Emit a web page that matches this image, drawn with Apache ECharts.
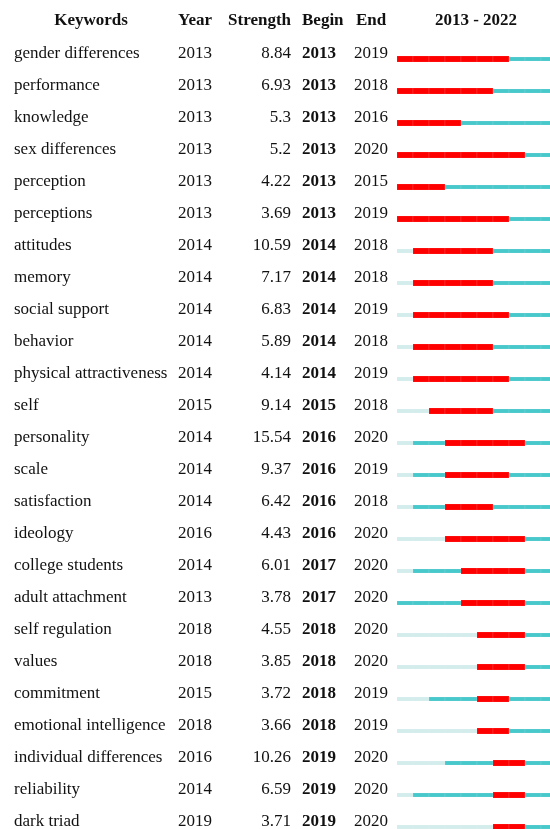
<!DOCTYPE html>
<html>
<head>
<meta charset="utf-8">
<script src="https://cdn.jsdelivr.net/npm/echarts@6/dist/echarts.min.js"></script>
<style>
  html, body { margin: 0; padding: 0; background: #fff; }
  #chart { width: 550px; height: 829px; }
</style>
</head>
<body>
<div id="chart"></div>
<script>
// 关键词突现数据
const keywords = ['gender differences', 'performance', 'knowledge', 'sex differences', 'perception',
  'perceptions', 'attitudes', 'memory', 'social support', 'behavior', 'physical attractiveness',
  'self', 'personality', 'scale', 'satisfaction', 'ideology', 'college students', 'adult attachment',
  'self regulation', 'values', 'commitment', 'emotional intelligence', 'individual differences',
  'reliability', 'dark triad'];
const years = [2013, 2013, 2013, 2013, 2013, 2013, 2014, 2014, 2014, 2014, 2014, 2015, 2014, 2014,
  2014, 2016, 2014, 2013, 2018, 2018, 2015, 2018, 2016, 2014, 2019];
const strengths = [8.84, 6.93, 5.3, 5.2, 4.22, 3.69, 10.59, 7.17, 6.83, 5.89, 4.14, 9.14, 15.54, 9.37,
  6.42, 4.43, 6.01, 3.78, 4.55, 3.85, 3.72, 3.66, 10.26, 6.59, 3.71];
const begins = [2013, 2013, 2013, 2013, 2013, 2013, 2014, 2014, 2014, 2014, 2014, 2015, 2016, 2016,
  2016, 2016, 2017, 2017, 2018, 2018, 2018, 2018, 2019, 2019, 2019];
const ends = [2019, 2018, 2016, 2020, 2015, 2019, 2018, 2018, 2019, 2018, 2019, 2018, 2020, 2019,
  2018, 2020, 2020, 2020, 2020, 2020, 2019, 2019, 2020, 2020, 2020];
const firstYear = 2013;
const lastYear = 2022;

const font = 'Liberation Serif, Times New Roman, serif';
const RED = '#ff0000';
const TEAL = '#47c8ca';
const LIGHT = '#d3ecec';

const chart = echarts.init(document.getElementById('chart'));
const idx = keywords.map((k, i) => i);

// 每列用一个 y 轴来显示文字
function textAxis(formatter, margin, align, bold) {
  return {
    type: 'category',
    data: idx,
    inverse: true,
    position: 'left',
    axisLine: { show: false },
    axisTick: { show: false },
    splitLine: { show: false },
    axisLabel: {
      margin: margin,
      align: align,
      fontFamily: font,
      fontSize: 17,
      fontWeight: bold ? 'bold' : 'normal',
      color: '#111',
      formatter: formatter
    }
  };
}

const headerStyle = { fontFamily: font, fontSize: 17, fontWeight: 'bold', fill: '#111' };

const option = {
  animation: false,
  // 每年 16px，2013-2022 共 10 格
  grid: { left: 397, top: 38, width: 160, height: 800, outerBoundsMode: 'none', containLabel: false },
  xAxis: { type: 'value', min: firstYear, max: lastYear + 1, show: false },
  yAxis: [
    textAxis(v => keywords[v], 383, 'left'),
    textAxis(v => years[v], 219, 'left'),
    textAxis(v => strengths[v], 106, 'right'),
    textAxis(v => begins[v], 95, 'left', true),
    textAxis(v => ends[v], 43, 'left')
  ],
  graphic: [
    { type: 'text', x: 91, y: 21, style: Object.assign({ text: 'Keywords', align: 'center', verticalAlign: 'middle' }, headerStyle) },
    { type: 'text', x: 178, y: 21, style: Object.assign({ text: 'Year', align: 'left', verticalAlign: 'middle' }, headerStyle) },
    { type: 'text', x: 291, y: 21, style: Object.assign({ text: 'Strength', align: 'right', verticalAlign: 'middle' }, headerStyle) },
    { type: 'text', x: 302, y: 21, style: Object.assign({ text: 'Begin', align: 'left', verticalAlign: 'middle' }, headerStyle) },
    { type: 'text', x: 356, y: 21, style: Object.assign({ text: 'End', align: 'left', verticalAlign: 'middle' }, headerStyle) },
    { type: 'text', x: 476, y: 21, style: Object.assign({ text: firstYear + ' - ' + lastYear, align: 'center', verticalAlign: 'middle' }, headerStyle) }
  ],
  series: [{
    type: 'custom',
    xAxisIndex: 0,
    yAxisIndex: 0,
    clip: false,
    data: idx.map(i => [i, years[i], begins[i], ends[i]]),
    encode: { x: -1, y: 0 },
    renderItem: function (params, api) {
      const row = api.value(0);
      const y0 = api.value(1), b = api.value(2), e = api.value(3);
      const children = [];
      for (let yr = firstYear; yr <= lastYear; yr++) {
        const p1 = api.coord([yr, row]);
        const p2 = api.coord([yr + 1, row]);
        const burst = yr >= b && yr <= e;
        const h = burst ? 6 : 4;
        const color = burst ? RED : (yr < y0 ? LIGHT : TEAL);
        children.push({
          type: 'rect',
          shape: { x: p1[0], y: p1[1] + 5 - h / 2, width: p2[0] - p1[0], height: h },
          style: { fill: color, stroke: 'rgba(255,255,255,0.1)', lineWidth: 1 }
        });
      }
      return { type: 'group', children: children };
    }
  }]
};

chart.setOption(option);
</script>
</body>
</html>
